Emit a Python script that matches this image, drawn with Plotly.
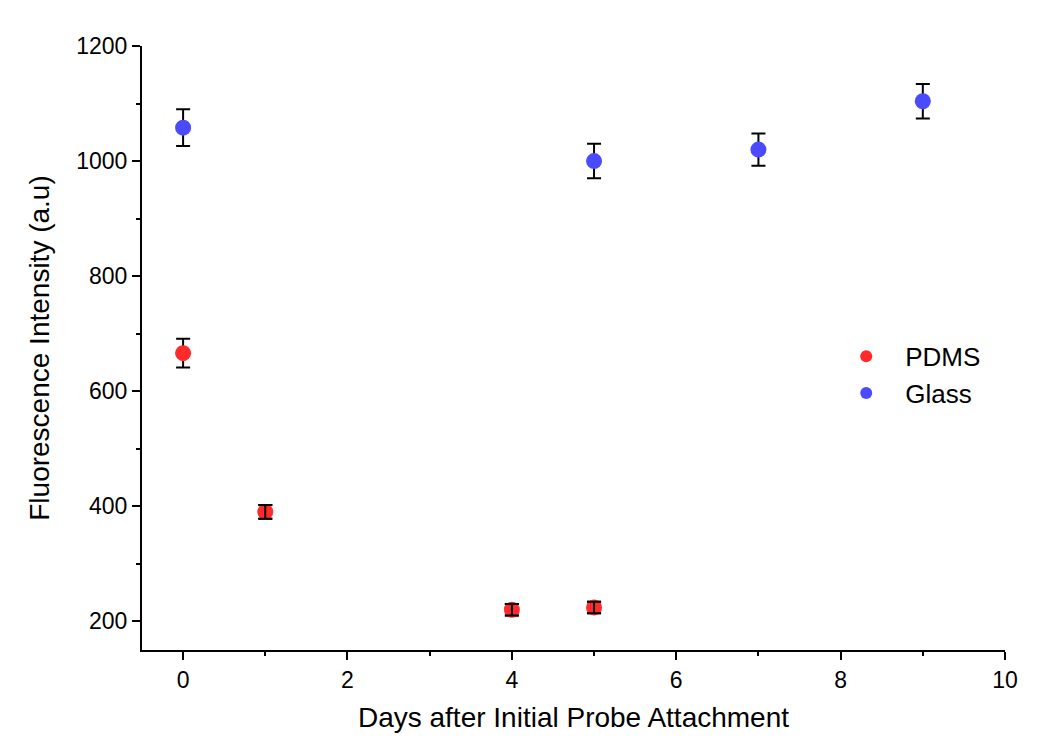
import plotly.graph_objects as go

pdms_days = [0, 1, 4, 5]
pdms_vals = [666, 390, 220, 224]
pdms_err = [25, 12, 10, 10]

glass_days = [0, 5, 7, 9]
glass_vals = [1058, 1000, 1020, 1104]
glass_err = [32, 30, 28, 30]

err_style = dict(type="data", color="black", thickness=2, width=7)

fig = go.Figure()
fig.add_trace(go.Scatter(
    x=pdms_days, y=pdms_vals, mode="markers", name="PDMS",
    marker=dict(color="#ff2a2a", size=16),
    error_y=dict(array=pdms_err, **err_style),
))
fig.add_trace(go.Scatter(
    x=glass_days, y=glass_vals, mode="markers", name="Glass",
    marker=dict(color="#4a4aff", size=16),
    error_y=dict(array=glass_err, **err_style),
))
# short error bars (hidden inside the marker) are drawn on top of the marker
small = [i for i, e in enumerate(pdms_err) if e < 15]
fig.add_trace(go.Scatter(
    x=[pdms_days[i] for i in small], y=[pdms_vals[i] for i in small],
    mode="markers", showlegend=False, hoverinfo="skip",
    marker=dict(color="rgba(0,0,0,0)", size=1),
    error_y=dict(array=[pdms_err[i] for i in small], **err_style),
))

font = "Liberation Sans, Arial, sans-serif"
fig.update_layout(
    width=1048, height=749,
    paper_bgcolor="white", plot_bgcolor="white",
    margin=dict(l=142, r=43, t=46, b=99),
    font=dict(family=font, size=23, color="black"),
    showlegend=True,
    legend=dict(x=0.794, y=0.525, xanchor="left", yanchor="top",
                font=dict(size=26), bgcolor="rgba(0,0,0,0)", itemsizing="constant",
                itemwidth=68, tracegroupgap=0),
    xaxis=dict(
        range=[-0.5, 10], showline=True, linecolor="black", linewidth=2,
        ticks="outside", ticklen=8, tickwidth=2, tickcolor="black",
        tickvals=[0, 2, 4, 6, 8, 10], showgrid=False, zeroline=False,
        minor=dict(tickvals=[1, 3, 5, 7, 9], ticks="outside", ticklen=4, tickwidth=2, tickcolor="black"),
        title=dict(text="Days after Initial Probe Attachment", font=dict(size=28), standoff=16),
    ),
    yaxis=dict(
        range=[150, 1200], showline=True, linecolor="black", linewidth=2,
        ticks="outside", ticklen=8, tickwidth=2, tickcolor="black",
        tickvals=[200, 400, 600, 800, 1000, 1200], showgrid=False, zeroline=False,
        minor=dict(tickvals=[300, 500, 700, 900, 1100], ticks="outside", ticklen=4, tickwidth=2, tickcolor="black"),
        title=dict(text="Fluorescence Intensity (a.u)", font=dict(size=28), standoff=18),
    ),
)
fig.write_html("out.html")
